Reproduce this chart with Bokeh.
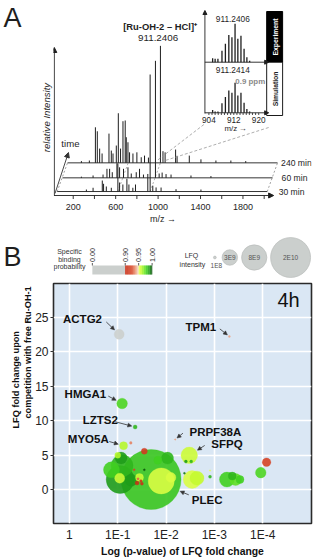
import math
from bokeh.plotting import figure
from bokeh.layouts import column
from bokeh.models import Range1d, Label, Arrow, NormalHead, FixedTicker, LinearAxis, Title
from bokeh.core.properties import value
from bokeh.embed import file_html
from bokeh.resources import INLINE

FONT = "Liberation Sans"

# ======================= DATA =======================
# Panel A - ESI-MS spectra, m/z and relative intensity (%)
mz_30min = [310, 373, 460, 472, 498, 545, 607, 623, 654, 692, 711, 748, 773, 889, 911, 936, 967, 1014, 1155, 1390]
int_30min = [1.7, 3.2, 9.4, 6.6, 4.3, 3.2, 24, 7.7, 6, 10.9, 6, 3.2, 6, 15, 100, 5, 3.5, 3.4, 2, 1.7]
mz_60min = [213, 323, 417, 454, 479, 504, 548, 573, 610, 652, 683, 730, 761, 798, 911, 946, 974, 1011, 1058, 1246, 1434]
int_60min = [1, 2, 2.8, 7.7, 7.7, 4.8, 12.5, 9, 7.7, 9, 3.7, 4.8, 7.7, 2.8, 100, 3.7, 4.5, 3.2, 2.8, 2, 1.5]
mz_240min = [166, 241, 298, 316, 338, 361, 426, 448, 464, 495, 514, 535, 558, 579, 589, 605, 620, 652, 689,
             730, 761, 798, 911, 935, 955, 1054, 1068, 1183, 1293, 1434, 1575, 1715]
int_240min = [1.5, 2, 30.4, 27, 12.2, 8, 25, 10.5, 8, 14.8, 42.4, 12.2, 35.6, 36.2, 21.9, 17.6, 9, 8, 9,
              4.8, 6.2, 4.5, 100, 10, 9, 11.4, 6, 6.2, 3, 2, 2, 1.5]
time_labels = ["30 min", "60 min", "240 min"]
guide_mz = [607, 911]
mz_minor_ticks = [200, 400, 600, 800, 1000, 1200, 1400, 1600, 1800, 2000]
mz_tick_values = [200, 600, 1000, 1400, 1800]
mz_tick_labels = ["200", "600", "1000", "1400", "1800"]
main_ion = "[Ru-OH-2 – HCl]⁺"
main_mz_text = "911.2406"

# Inset - isotope pattern
iso_mz = [905.2, 906.0, 906.9, 908.2, 909.3, 910.4, 911.4, 912.4, 913.3, 914.3, 915.3, 916.2, 917.1]
iso_exp = [10, 9, 9, 30, 48, 71, 65, 100, 61, 69, 35, 13, 4]
iso_sim = [7, 3.5, 3.5, 25, 41, 58, 52, 78, 45, 52, 26, 10, 3.5]
iso_minor_ticks = [904, 905, 906, 907, 908, 909, 910, 911, 912, 913, 914, 915, 916, 917, 918, 919, 920]
iso_tick_values = [904, 912, 920]
iso_tick_labels = ["904", "912", "920"]
exp_text = "911.2406"
sim_text = "911.2414"
ppm_text = "0.9 ppm"

# Panel B - bubbles: -log10(p), LFQ fold change, LFQ intensity, specific binding probability
bub_x = [1.03, 3.31, 1.09, 1.36, 2.19, 1.12, 2.48, 1.69, 1.90, 1.05, 1.09, 1.00, 1.55, 1.42, 1.34, 1.48,
         2.54, 2.64, 2.41, 2.52, 3.26, 3.37, 3.44, 3.53, 2.91, 2.91, 3.96, 4.08, 0.87, 1.04, 1.07, 2.03,
         1.83, 2.10, 1.27, 2.38, 1.55, 1.28, 1.45, 1.40, 1.50]
bub_y = [22.5, 22.2, 12.5, 9.1, 7.3, 6.4, 5.0, 1.5, 1.3, 1.5, 3.5, 5.0, 5.6, 1.6, 2.9, 1.3,
         1.5, 1.7, 4.1, 4.1, 1.5, 2.0, 1.5, 1.5, 1.9, 2.8, 2.5, 4.0, 2.9, 1.7, 4.6, 4.6,
         4.3, 1.8, 6.8, 2.4, 2.9, 1.4, 1.8, 1.0, 0.9]
bub_lfq = [1.25e9, 5e7, 1.4e9, 2e8, 3e7, 8e8, 3.4e9, 4.5e10, 8.5e9, 9.8e9, 6e9, 4.5e8, 4.5e8, 7e7, 5e7, 8.5e7,
           4e9, 2.45e9, 1.1e8, 1.1e8, 2.8e9, 8e8, 1.8e9, 8e8, 1.1e8, 2.5e7, 1.4e9, 9.2e8, 3.2e9, 1.25e9, 1.8e9, 1.8e9,
           8e8, 1.25e9, 8.5e7, 5e7, 5e7, 1.8e9, 8e8, 2e8, 1.1e8]
bub_prob = [0.50, 0.94, 0.978, 0.985, 0.94, 0.962, 0.958, 0.982, 0.955, 0.99, 0.985, 0.962, 0.915, 0.93, 0.92, 0.91,
            0.955, 0.96, 0.99, 0.985, 0.98, 0.985, 0.975, 0.98, 0.985, 0.952, 0.978, 0.92, 0.98, 0.958, 0.99, 0.985,
            0.98, 0.955, 0.935, 0.995, 0.999, 0.99, 0.958, 0.905, 0.905]
gene_names = ["ACTG2", "TPM1", "HMGA1", "LZTS2", "PRPF38A", "MYO5A", "SFPQ", "PLEC"]
gene_bubble = [0, 1, 2, 3, 4, 5, 6, 7]
gene_label_x = [0.27, 2.72, 0.33, 0.64, 3.02, 0.39, 3.26, 2.85]
gene_label_y = [24.7, 23.6, 13.9, 10.1, 8.36, 7.3, 6.57, -1.5]
gene_arrow_x = [0.763, 3.113, 0.804, 0.948, 2.35, 0.825, 2.80, 2.47]
gene_arrow_y = [24.29, 23.29, 13.57, 9.86, 8.21, 7.0, 6.43, -0.71]
x_ticks = [0, 1, 2, 3, 4]
x_tick_labels = ["1", "1E-1", "1E-2", "1E-3", "1E-4"]
y_ticks = [0, 5, 10, 15, 20, 25]
cb_ticks = [0.00, 0.90, 0.95, 1.00]
cb_tick_labels = ["0.00", "0.90", "0.95", "1.00"]
size_legend_lfq = [1e8, 3e9, 8e9, 2e10]
size_legend_labels = ["1E8", "3E9", "8E9", "2E10"]

# ======================= STYLE / LAYOUT =======================
W = 316
HA, HL, HB = 234, 48, 277
FL, FR = 52, 5                      # common left / right borders (frames are aligned in a column)
XL, XR = FL, W - FR                 # frame edges in pixels
REF_A = HA
REF_L = HA + HL
INK = "#1e1e1e"
GRAY = "#cbcfcd"
STOPS = [(0.900, "#c62a12"), (0.925, "#d9482a"), (0.940, "#eba080"), (0.950, "#f8e6d6"),
         (0.9501, "#eeff55"), (0.960, "#c4fa30"), (0.970, "#7ced28"), (0.980, "#40cf20"),
         (0.990, "#1f9c1a"), (1.000, "#0b4d0b")]


def _hex(c):
    return [int(c[i:i + 2], 16) for i in (1, 3, 5)]


def prob_color(p):
    if p < 0.9:
        return GRAY
    for (p0, c0), (p1, c1) in zip(STOPS[:-1], STOPS[1:]):
        if p <= p1:
            t = 0.0 if p1 == p0 else max(0.0, min(1.0, (p - p0) / (p1 - p0)))
            a, b = _hex(c0), _hex(c1)
            return "#%02x%02x%02x" % tuple(int(round(a[i] + (b[i] - a[i]) * t)) for i in range(3))
    return STOPS[-1][1]


def lfq_radius(v):  # radius in pixels
    return 20.0 * math.sqrt(v / 2e10)


def bare_fig(h, xr, yr):
    p = figure(width=W, height=h, x_range=xr, y_range=yr, output_backend="svg", toolbar_location=None,
               x_axis_location=None, y_axis_location=None)
    p.min_border_left, p.min_border_right = FL, FR
    p.min_border_top = p.min_border_bottom = 0
    p.grid.visible = False
    p.outline_line_color = None
    return p


def side_axis(p, ticks=None, overrides=None, size="10px", standoff=0, label=None, label_style="normal",
              label_size="9px", label_standoff=0):
    ax = LinearAxis(ticker=FixedTicker(ticks=ticks or []), axis_line_color=None, major_tick_line_color=None,
                    minor_tick_line_color=None, major_tick_out=0, major_tick_in=0, minor_tick_out=0,
                    minor_tick_in=0, major_label_standoff=standoff, major_label_text_font=FONT,
                    major_label_text_font_size=size, major_label_text_color=INK)
    if overrides:
        ax.major_label_overrides = overrides
    if label:
        ax.axis_label = label
        ax.axis_label_text_font = FONT
        ax.axis_label_text_font_size = label_size
        ax.axis_label_text_font_style = label_style
        ax.axis_label_text_color = INK
        ax.axis_label_standoff = label_standoff
    p.add_layout(ax, "left")


def lab(p, x, y, text, size, **kw):
    d = dict(text_font=FONT, text_font_size=size, text_color=INK,
             text_align="center", text_baseline="middle")
    d.update(kw)
    p.add_layout(Label(x=x, y=y, text=text, **d))


# ======================= PANEL A =======================
def mz_of(xr):
    return 1000 + (xr - 157) * 9.39


def yi_of(yr):
    return (195 - yr) / 1.17


def imz(xr):
    return 904 + (xr - 208) / 3.125


def iy(yr):
    return (112.3 - yr) / 0.384


pA = bare_fig(HA, Range1d(mz_of(XL), mz_of(XR)), Range1d(yi_of(REF_A), yi_of(0)))
pA.extra_x_ranges = {"ix": Range1d(imz(XL), imz(XR))}
pA.extra_y_ranges = {"iy": Range1d(iy(REF_A), iy(0))}
side_axis(pA, label="relative Intensity", label_style="italic", label_size="9.6px", label_standoff=2)
side_axis(pA, ticks=[156], overrides={156: "A"}, size="27px", standoff=16)

trace_off = [(14, 3.4), (64, 15.1), (111, 27.9)]  # (m/z shift, baseline) per time point
traces = [(mz_30min, int_30min), (mz_60min, int_60min), (mz_240min, int_240min)]
label_ref_x = [278, 281, 280.5]

s0, b0 = trace_off[0]
s2, b2 = trace_off[2]
for m in [35, 2015]:
    pA.line([m + s0, m + s2], [b0, b2], line_color="#8a8a8a", line_dash="2 2", line_width=0.8)
for m in guide_mz:
    pA.line([m + s0, m + s2], [b0, b2], line_color="#9a9a9a", line_dash="2 2", line_width=0.8)

for k in [2, 1, 0]:
    sh, base = trace_off[k]
    mzs, ints = traces[k]
    pA.segment(x0=[m + sh for m in mzs], y0=[base] * len(mzs), x1=[m + sh for m in mzs],
               y1=[base + v for v in ints], line_color=INK, line_width=1.0)
    pA.line([35 + sh, 2015 + sh], [base, base], line_color=INK, line_width=0.9)
    lab(pA, mz_of(label_ref_x[k]), base, time_labels[k], "8.6px", text_align="left")

# x axis of the spectra
pA.add_layout(Arrow(x_start=mz_of(52.5), y_start=0, x_end=mz_of(273), y_end=0, line_color=INK, line_width=0.9,
                    end=NormalHead(size=5, fill_color=INK, line_color=INK)))
pA.segment(x0=mz_minor_ticks, y0=[0] * len(mz_minor_ticks), x1=mz_minor_ticks,
           y1=[yi_of(198.5)] * len(mz_minor_ticks), line_color=INK, line_width=0.9)
pA.text(x=mz_tick_values, y=[yi_of(206)] * len(mz_tick_values), text=mz_tick_labels,
        text_font=value(FONT), text_font_size="9px", text_color=INK,
        text_align="center", text_baseline="middle")
lab(pA, mz_of(162), yi_of(218), "m/z →", "9px")
# intensity axis
pA.add_layout(Arrow(x_start=mz_of(52.8), y_start=0, x_end=mz_of(52.8), y_end=yi_of(47), line_color=INK,
                    line_width=0.9, end=NormalHead(size=5, fill_color=INK, line_color=INK)))
# time arrow
pA.add_layout(Arrow(x_start=mz_of(53.5), y_start=yi_of(193), x_end=mz_of(67), y_end=yi_of(152),
                    line_color="#333333", line_width=0.9,
                    end=NormalHead(size=5, fill_color="#333333", line_color="#333333")))
lab(pA, mz_of(69), yi_of(143), "time", "9.6px")
# main peak annotation
lab(pA, mz_of(159), yi_of(26), main_ion, "9.4px", text_font_style="bold")
lab(pA, mz_of(157), yi_of(37.5), main_mz_text, "9.8px")

# connectors to inset
pA.line([mz_of(203), mz_of(156)], [yi_of(124), yi_of(160)], line_color="#999999", line_dash="3 2", line_width=0.8)
pA.line([mz_of(268), mz_of(161)], [yi_of(127), yi_of(161)], line_color="#999999", line_dash="3 2", line_width=0.8)

# inset
IR = dict(x_range_name="ix", y_range_name="iy")
exp_base = iy(61.7)
pA.segment(x0=iso_mz, y0=[exp_base] * len(iso_mz), x1=iso_mz, y1=[exp_base + v for v in iso_exp],
           line_color=INK, line_width=1.3, **IR)
pA.segment(x0=iso_mz, y0=[0] * len(iso_mz), x1=iso_mz, y1=iso_sim, line_color=INK, line_width=1.3, **IR)
for yb in [exp_base, 0]:
    pA.add_layout(Arrow(x_start=imz(204), y_start=yb, x_end=imz(268), y_end=yb, line_color=INK,
                        line_width=0.9, end=NormalHead(size=4, fill_color=INK, line_color=INK), **IR))
pA.add_layout(Arrow(x_start=imz(204), y_start=iy(113), x_end=imz(204), y_end=iy(10), line_color=INK,
                    line_width=0.9, end=NormalHead(size=4, fill_color=INK, line_color=INK), **IR))
pA.segment(x0=iso_minor_ticks, y0=[0] * len(iso_minor_ticks), x1=iso_minor_ticks,
           y1=[iy(114.5)] * len(iso_minor_ticks), line_color=INK, line_width=0.8, **IR)
pA.text(x=iso_tick_values, y=[iy(119.5)] * 3, text=iso_tick_labels, text_font=value(FONT),
        text_font_size="8.2px", text_color=INK, text_align="center", text_baseline="middle", **IR)
pA.quad(left=[imz(266)], right=[imz(282)], top=[iy(11)], bottom=[iy(61.7)], fill_color="black",
        line_color="black", **IR)
pA.quad(left=[imz(266)], right=[imz(282)], top=[iy(61.7)], bottom=[iy(115)], fill_color="white",
        line_color="black", line_width=0.9, **IR)
lab(pA, imz(274.5), iy(36.5), "Experiment", "6.8px", angle=math.pi / 2, text_color="white",
    text_font_style="bold", **IR)
lab(pA, imz(274.5), iy(88.5), "Simulation", "6.8px", angle=math.pi / 2, text_font_style="bold", **IR)
lab(pA, imz(232), iy(18.5), exp_text, "8.3px", **IR)
lab(pA, imz(232), iy(69.5), sim_text, "8.3px", **IR)
lab(pA, imz(249.5), iy(80.5), ppm_text, "7.9px", text_color="#8a8a8a", text_font_style="bold", **IR)
lab(pA, imz(235), iy(128), "m/z →", "7.9px", **IR)

# ======================= LEGEND STRIP (panel B) =======================
pL = bare_fig(HL, Range1d(XL, XR), Range1d(REF_L, REF_A))
side_axis(pL, ticks=[256], overrides={256: "B"}, size="27px", standoff=32)
for t, yy in zip(["Specific", "binding", "probability"], [251, 258.5, 266]):
    lab(pL, 68, yy, t, "7px", text_color="#333333")

cb_pos_p = [0.0, 0.9, 0.95, 1.0]
cb_pos_x = [91, 124, 137.5, 151]


def cb_x(p):
    for (p0, x0), (p1, x1) in zip(zip(cb_pos_p[:-1], cb_pos_x[:-1]), zip(cb_pos_p[1:], cb_pos_x[1:])):
        if p <= p1:
            return x0 + (x1 - x0) * (p - p0) / (p1 - p0)
    return cb_pos_x[-1]


lefts, rights, cols = [cb_x(0.0)], [cb_x(0.9)], [GRAY]
n = 40
for i in range(n):
    pa = 0.9 + 0.1 * i / n
    pb = 0.9 + 0.1 * (i + 1) / n
    lefts.append(cb_x(pa))
    rights.append(cb_x(pb) + 0.15)
    cols.append(prob_color(0.5 * (pa + pb)))
pL.quad(left=lefts, right=rights, top=[265] * len(lefts), bottom=[274] * len(lefts), fill_color=cols,
        line_color=None)
tx = [cb_x(p) for p in cb_ticks]
pL.segment(x0=tx, y0=[262.5] * 4, x1=tx, y1=[265] * 4, line_color="#333333", line_width=0.8)
pL.text(x=tx, y=[261.5] * 4, text=cb_tick_labels, angle=math.pi / 2, text_font=value(FONT),
        text_font_size="7.2px", text_color="#333333", text_align="left", text_baseline="middle")

lab(pL, 190.5, 255, "LFQ", "7px", text_color="#333333")
lab(pL, 191.5, 263.5, "intensity", "7px", text_color="#333333")
leg_x = [214, 229, 253.5, 290]
pL.scatter(x=leg_x, y=[257] * 4, size=[2 * lfq_radius(v) for v in size_legend_lfq],
           fill_color=GRAY, line_color="#b5b9b7", line_width=0.6)
pL.text(x=[215.5] + leg_x[1:], y=[265, 257, 257, 257], text=size_legend_labels, text_font=value(FONT),
        text_font_size="6.5px", text_color="#555555", text_align="center", text_baseline="middle")

# ======================= PANEL B =======================
PXX, PXY = 48.5, 7.0


def bx(xr):
    return (xr - 68) / PXX


def by(yr):
    return (492 - yr) / PXY


B_TOP, B_BOT = 1, 33
pB = figure(width=W, height=HB, x_range=Range1d(bx(XL), bx(XR)),
            y_range=Range1d(by(REF_L + HB - B_BOT), by(REF_L + B_TOP)),
            background_fill_color="#dae7f4", output_backend="svg", toolbar_location=None,
            min_border_left=FL, min_border_right=FR, min_border_top=B_TOP, min_border_bottom=B_BOT)
pB.outline_line_color = "#2a2a2a"
pB.outline_line_width = 1.6
pB.xgrid.ticker = FixedTicker(ticks=x_ticks)
pB.ygrid.ticker = FixedTicker(ticks=y_ticks)
pB.grid.grid_line_color = "white"
pB.grid.grid_line_width = 1.6
pB.xaxis.ticker = FixedTicker(ticks=x_ticks)
pB.xaxis.major_label_overrides = {t: l for t, l in zip(x_ticks, x_tick_labels)}
pB.yaxis.ticker = FixedTicker(ticks=y_ticks)
for ax in [pB.xaxis[0], pB.yaxis[0]]:
    ax.axis_line_color = None
    ax.minor_tick_line_color = None
    ax.minor_tick_out = 0
    ax.major_label_text_font = FONT
    ax.major_label_text_font_size = "12px"
    ax.major_label_text_color = "#222222"
pB.xaxis.major_tick_line_color = None
pB.xaxis.major_tick_out = 0
pB.xaxis.major_label_standoff = 4
pB.xaxis.axis_label = "Log (p-value) of LFQ fold change"
pB.xaxis.axis_label_text_font = FONT
pB.xaxis.axis_label_text_font_size = "10.4px"
pB.xaxis.axis_label_text_font_style = "bold"
pB.xaxis.axis_label_text_color = "#111111"
pB.xaxis.axis_label_standoff = 1
pB.yaxis.major_tick_line_color = "#333333"
pB.yaxis.major_tick_out = 3
pB.yaxis.major_tick_in = 0
pB.yaxis.major_label_standoff = 2

frame_bottom_px = HB - B_BOT
for txt, bottom_ref in [("competition with free Ru-OH-1", 421), ("LFQ fold change upon", 431)]:
    pB.add_layout(Title(text=txt, align="left", offset=frame_bottom_px - (bottom_ref - REF_L),
                        standoff=0, text_font=FONT, text_font_size="9.2px", text_font_style="bold",
                        text_color="#111111"), "left")

order = sorted(range(len(bub_x)), key=lambda i: -bub_lfq[i])
pB.scatter(x=[bub_x[i] for i in order], y=[bub_y[i] for i in order],
           size=[2 * lfq_radius(bub_lfq[i]) for i in order],
           fill_color=[prob_color(bub_prob[i]) for i in order], fill_alpha=0.9,
           line_color=[prob_color(bub_prob[i]) for i in order], line_alpha=0.6, line_width=0.5)

for name, bi, lx, ly, ax_, ay_ in zip(gene_names, gene_bubble, gene_label_x, gene_label_y,
                                        gene_arrow_x, gene_arrow_y):
    lab(pB, lx, ly, name, "11.5px", text_font_style="bold", text_color="#111111")
    cx, cy = bub_x[bi], bub_y[bi]
    dx, dy = (ax_ - cx) * PXX, (ay_ - cy) * PXY
    d = math.hypot(dx, dy)
    r = lfq_radius(bub_lfq[bi]) + 1.5
    ex, ey = cx + dx * r / d / PXX, cy + dy * r / d / PXY
    pB.add_layout(Arrow(x_start=ax_, y_start=ay_, x_end=ex, y_end=ey, line_color="#333333", line_width=0.8,
                        end=NormalHead(size=4, fill_color="#333333", line_color="#333333", line_width=0.5)))

lab(pB, bx(288), by(300), "4h", "20px", text_color="#111111")

layout = column(pA, pL, pB, spacing=0)
open("out.html", "w").write(file_html(layout, INLINE))
